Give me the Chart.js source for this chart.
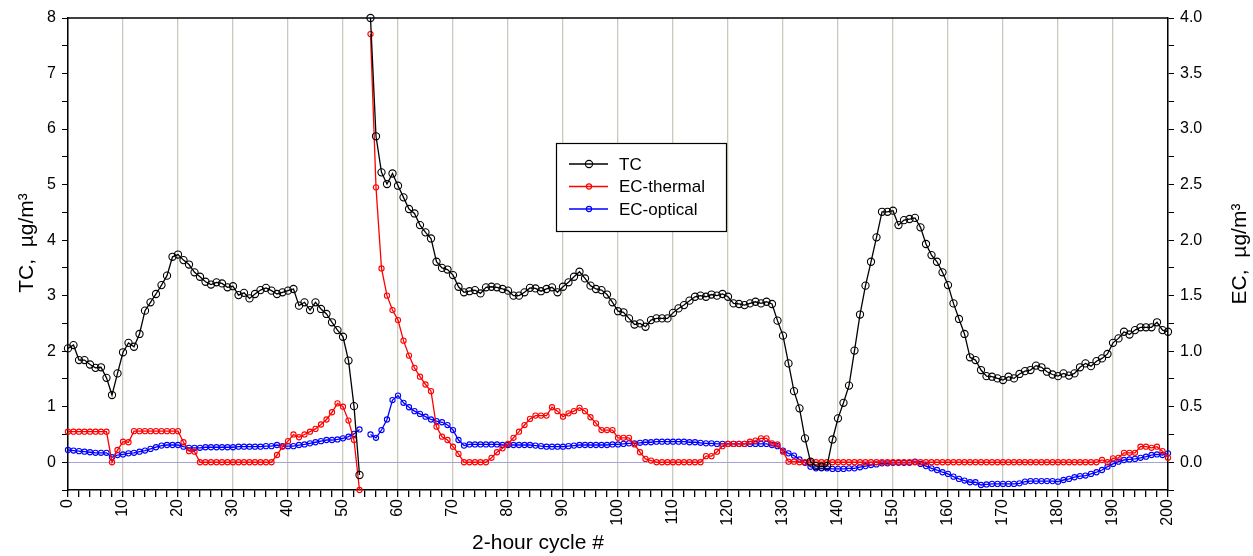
<!DOCTYPE html>
<html>
<head>
<meta charset="utf-8">
<script src="https://cdn.jsdelivr.net/npm/chart.js@4.4.1/dist/chart.umd.min.js"></script>
<style>
  html, body { margin: 0; padding: 0; background: #fff; }
</style>
</head>
<body>
<canvas id="ecChart" width="1253" height="556"></canvas>
<script>
// cycle numbers 0..200 (x categories)
const cycles = Array.from({ length: 201 }, (_, i) => i);

// total carbon, ug/m3 (left axis); null = missing cycle
const tc = [
  2.05, 2.11, 1.84, 1.84, 1.76, 1.70, 1.71, 1.52, 1.21, 1.60,
  1.98, 2.15, 2.08, 2.31, 2.73, 2.88, 3.03, 3.19, 3.36, 3.70,
  3.74, 3.64, 3.56, 3.42, 3.34, 3.25, 3.20, 3.24, 3.22, 3.15,
  3.17, 3.01, 3.05, 2.95, 3.03, 3.10, 3.14, 3.09, 3.03, 3.06,
  3.09, 3.12, 2.82, 2.88, 2.74, 2.88, 2.76, 2.67, 2.52, 2.38,
  2.26, 1.83, 1.01, -0.23, null, 8.00, 5.87, 5.22, 5.01, 5.20,
  4.98, 4.77, 4.56, 4.48, 4.27, 4.14, 4.03, 3.61, 3.50, 3.47,
  3.37, 3.16, 3.06, 3.08, 3.10, 3.04, 3.15, 3.16, 3.15, 3.12,
  3.09, 3.00, 3.00, 3.06, 3.14, 3.13, 3.08, 3.12, 3.15, 3.06,
  3.16, 3.24, 3.34, 3.43, 3.31, 3.18, 3.12, 3.10, 3.02, 2.88,
  2.72, 2.70, 2.59, 2.48, 2.50, 2.44, 2.56, 2.59, 2.59, 2.59,
  2.69, 2.77, 2.83, 2.91, 2.98, 3.00, 2.98, 3.02, 3.00, 3.03,
  2.98, 2.86, 2.85, 2.83, 2.86, 2.89, 2.86, 2.89, 2.85, 2.55,
  2.28, 1.78, 1.28, 0.97, 0.43, 0.01, -0.07, -0.08, -0.07, 0.41,
  0.79, 1.07, 1.38, 2.01, 2.66, 3.18, 3.61, 4.05, 4.51, 4.51,
  4.53, 4.27, 4.36, 4.38, 4.40, 4.23, 3.93, 3.73, 3.61, 3.42,
  3.19, 2.86, 2.58, 2.31, 1.89, 1.84, 1.66, 1.55, 1.54, 1.51,
  1.48, 1.54, 1.51, 1.59, 1.64, 1.66, 1.74, 1.71, 1.63, 1.58,
  1.55, 1.60, 1.56, 1.60, 1.71, 1.78, 1.73, 1.82, 1.87, 1.95,
  2.15, 2.23, 2.35, 2.30, 2.38, 2.43, 2.43, 2.43, 2.52, 2.38,
  2.35
];

// elemental carbon from the thermal method, ug/m3 (right axis)
const ecThermal = [
  0.275, 0.275, 0.275, 0.275, 0.275, 0.275, 0.275, 0.275, 0, 0.11,
  0.185, 0.18, 0.28, 0.28, 0.28, 0.28, 0.28, 0.28, 0.28, 0.28,
  0.28, 0.18, 0.10, 0.095, 0, 0, 0, 0, 0, 0,
  0, 0, 0, 0, 0, 0, 0, 0, 0.065, 0.14,
  0.19, 0.25, 0.225, 0.25, 0.275, 0.30, 0.34, 0.385, 0.45, 0.53,
  0.50, 0.375, 0.20, -0.25, null, 3.855, 2.475, 1.745, 1.50, 1.37,
  1.28, 1.095, 0.96, 0.85, 0.77, 0.70, 0.64, 0.32, 0.23, 0.20,
  0.14, 0.075, 0, 0, 0, 0, 0, 0.04, 0.09, 0.125,
  0.165, 0.22, 0.275, 0.335, 0.39, 0.42, 0.42, 0.42, 0.495, 0.46,
  0.41, 0.44, 0.46, 0.49, 0.46, 0.405, 0.35, 0.29, 0.29, 0.29,
  0.22, 0.22, 0.22, 0.16, 0.09, 0.03, 0.015, 0, 0, 0,
  0, 0, 0, 0, 0, 0, 0.055, 0.055, 0.095, 0.145,
  0.165, 0.165, 0.165, 0.165, 0.185, 0.195, 0.215, 0.215, 0.17, 0.16,
  0.095, 0.005, 0.005, 0, 0, 0, 0, 0, 0, 0,
  0, 0, 0, 0, 0, 0, 0, 0, 0, 0,
  0, 0, 0, 0, 0, 0, 0, 0, 0, 0,
  0, 0, 0, 0, 0, 0, 0, 0, 0, 0,
  0, 0, 0, 0, 0, 0, 0, 0, 0, 0,
  0, 0, 0, 0, 0, 0, 0, 0, 0.02, 0,
  0.035, 0.04, 0.085, 0.085, 0.085, 0.14, 0.14, 0.13, 0.14, 0.10,
  0.04
];

// elemental carbon from the optical method, ug/m3 (right axis)
const ecOptical = [
  0.11, 0.105, 0.10, 0.095, 0.09, 0.085, 0.085, 0.085, 0.045, 0.065,
  0.07, 0.08, 0.085, 0.095, 0.105, 0.12, 0.135, 0.15, 0.155, 0.155,
  0.155, 0.14, 0.13, 0.13, 0.13, 0.135, 0.135, 0.135, 0.135, 0.135,
  0.135, 0.14, 0.14, 0.14, 0.14, 0.14, 0.145, 0.145, 0.155, 0.145,
  0.145, 0.145, 0.155, 0.16, 0.17, 0.18, 0.19, 0.20, 0.20, 0.205,
  0.215, 0.23, 0.255, 0.295, null, 0.25, 0.22, 0.29, 0.385, 0.56,
  0.60, 0.535, 0.495, 0.46, 0.435, 0.41, 0.385, 0.37, 0.36, 0.335,
  0.29, 0.20, 0.15, 0.16, 0.16, 0.16, 0.16, 0.16, 0.16, 0.155,
  0.155, 0.155, 0.155, 0.155, 0.155, 0.15, 0.145, 0.14, 0.14, 0.14,
  0.14, 0.145, 0.15, 0.155, 0.155, 0.155, 0.155, 0.155, 0.155, 0.16,
  0.16, 0.165, 0.17, 0.17, 0.175, 0.18, 0.18, 0.185, 0.185, 0.185,
  0.185, 0.185, 0.185, 0.18, 0.18, 0.175, 0.17, 0.17, 0.165, 0.165,
  0.165, 0.165, 0.165, 0.165, 0.165, 0.165, 0.165, 0.165, 0.155, 0.145,
  0.105, 0.08, 0.06, 0.025, -0.005, -0.04, -0.055, -0.055, -0.055, -0.06,
  -0.06, -0.06, -0.055, -0.055, -0.045, -0.035, -0.025, -0.02, -0.01, -0.01,
  -0.005, -0.005, -0.005, -0.005, 0.005, -0.015, -0.035, -0.055, -0.07, -0.09,
  -0.105, -0.13, -0.15, -0.165, -0.18, -0.18, -0.205, -0.20, -0.195, -0.195,
  -0.195, -0.195, -0.195, -0.19, -0.175, -0.17, -0.17, -0.17, -0.17, -0.17,
  -0.175, -0.16, -0.15, -0.135, -0.125, -0.12, -0.105, -0.09, -0.07, -0.04,
  -0.015, 0.005, 0.02, 0.025, 0.03, 0.04, 0.05, 0.065, 0.07, 0.065,
  0.08
];

const FONT = 'Liberation Sans, Arial, sans-serif';
const GRID_COLOR = '#c9c9bd';
const ZERO_COLOR = '#a3a3d6';

const toPoints = arr => cycles.map((c, i) => ({ x: c, y: arr[i] }));

// black frame line along the top of the plot
const topFrame = {
  id: 'topFrame',
  afterDatasetsDraw(chart) {
    const { ctx, chartArea: a } = chart;
    ctx.save();
    ctx.strokeStyle = '#000';
    ctx.lineWidth = 1.5;
    ctx.beginPath();
    ctx.moveTo(a.left, a.top);
    ctx.lineTo(a.right, a.top);
    ctx.stroke();
    ctx.restore();
  }
};

// axis titles; both vertical ones read bottom-to-top
const axisTitles = {
  id: 'axisTitles',
  afterDraw(chart) {
    const { ctx } = chart;
    const put = (text, x, y, rot) => {
      ctx.save();
      ctx.translate(x, y);
      ctx.rotate(rot);
      ctx.fillText(text, 0, 0);
      ctx.restore();
    };
    ctx.save();
    ctx.fillStyle = '#000';
    ctx.font = '21px ' + FONT;
    ctx.textAlign = 'center';
    ctx.textBaseline = 'middle';
    put('TC,  µg/m³', 27, 243, -Math.PI / 2);
    put('EC,  µg/m³', 1240, 254, -Math.PI / 2);
    put('2-hour cycle #', 538, 543, 0);
    ctx.restore();
  }
};

// boxed legend inside the plot
const boxLegend = {
  id: 'boxLegend',
  afterDraw(chart) {
    const { ctx } = chart;
    const bx = 556, by = 143, bw = 170, bh = 88;
    ctx.save();
    ctx.fillStyle = '#fff';
    ctx.fillRect(bx, by, bw, bh);
    ctx.strokeStyle = '#000';
    ctx.lineWidth = 1.2;
    ctx.strokeRect(bx + 0.5, by + 0.5, bw, bh);
    ctx.font = '17px ' + FONT;
    ctx.textBaseline = 'middle';
    chart.data.datasets.forEach((ds, i) => {
      const y = by + 21 + i * 22.5;
      ctx.strokeStyle = ds.borderColor;
      ctx.lineWidth = ds.borderWidth;
      ctx.beginPath();
      ctx.moveTo(bx + 13, y);
      ctx.lineTo(bx + 52, y);
      ctx.stroke();
      ctx.lineWidth = ds.pointBorderWidth;
      ctx.beginPath();
      ctx.arc(bx + 33, y, ds.pointRadius, 0, Math.PI * 2);
      ctx.stroke();
      ctx.fillStyle = '#000';
      ctx.fillText(ds.label, bx + 63, y + 1);
    });
    ctx.restore();
  }
};

const series = (label, color, arr, axis, radius) => ({
  label,
  data: toPoints(arr),
  yAxisID: axis,
  borderColor: color,
  borderWidth: 1.3,
  pointRadius: radius,
  pointBorderWidth: 1.1,
  pointBorderColor: color,
  pointBackgroundColor: 'rgba(0,0,0,0)',
  pointHoverRadius: radius,
  tension: 0,
  spanGaps: false,
  clip: false
});

new Chart(document.getElementById('ecChart'), {
  type: 'line',
  data: {
    datasets: [
      series('TC', '#000000', tc, 'y', 3.6),
      series('EC-thermal', '#ff0000', ecThermal, 'y2', 2.6),
      series('EC-optical', '#0000ff', ecOptical, 'y2', 2.6)
    ]
  },
  options: {
    responsive: false,
    devicePixelRatio: 1,
    animation: false,
    layout: { padding: { top: 18, left: 0, right: 0, bottom: 0 } },
    plugins: {
      legend: { display: false },
      tooltip: { enabled: false }
    },
    scales: {
      x: {
        type: 'linear',
        min: 0,
        max: 200,
        afterFit: s => { s.height = 66; },
        border: { color: '#000', width: 1.5 },
        grid: {
          color: c => (c.tick && c.tick.value % 10 === 0 ? GRID_COLOR : 'rgba(0,0,0,0)'),
          lineWidth: 1.3,
          tickColor: '#000',
          tickLength: 7
        },
        ticks: {
          stepSize: 2,
          autoSkip: false,
          minRotation: 90,
          maxRotation: 90,
          padding: 2,
          color: '#000',
          font: { family: FONT, size: 16 },
          callback: v => (v % 10 === 0 ? String(v) : '')
        }
      },
      y: {
        position: 'left',
        min: -0.5,
        max: 8,
        afterFit: s => { s.width = 68; },
        border: { color: '#000', width: 1.5 },
        grid: {
          color: c => (c.tick && c.tick.value === 0 ? ZERO_COLOR : 'rgba(0,0,0,0)'),
          lineWidth: 1,
          tickColor: '#000',
          tickLength: 6
        },
        ticks: {
          stepSize: 0.5,
          padding: 6,
          color: '#000',
          font: { family: FONT, size: 16 },
          callback: v => (Number.isInteger(v) ? String(v) : '')
        }
      },
      y2: {
        position: 'right',
        min: -0.25,
        max: 4,
        afterFit: s => { s.width = 85; },
        border: { color: '#000', width: 1.5 },
        grid: {
          drawOnChartArea: false,
          tickColor: '#000',
          tickLength: 6
        },
        ticks: {
          stepSize: 0.25,
          padding: 6,
          color: '#000',
          font: { family: FONT, size: 16 },
          callback: v => (Math.abs(v * 2 - Math.round(v * 2)) < 1e-6 ? v.toFixed(1) : '')
        }
      }
    }
  },
  plugins: [topFrame, axisTitles, boxLegend]
});
</script>
</body>
</html>
